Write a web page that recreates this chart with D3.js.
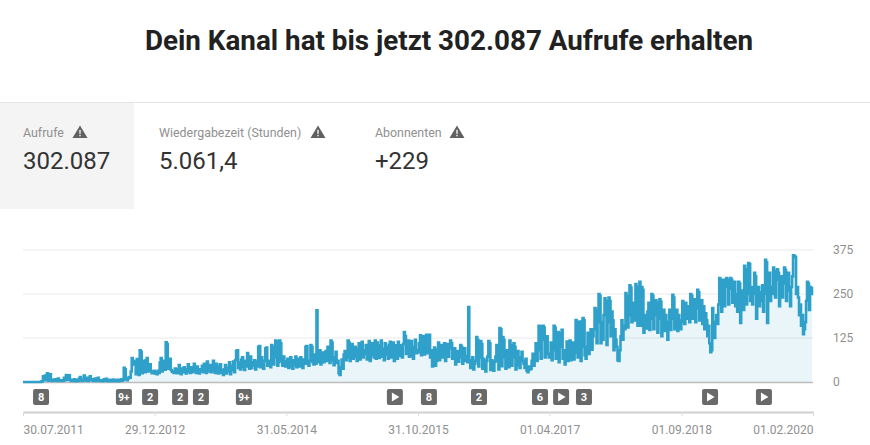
<!DOCTYPE html>
<html>
<head>
<meta charset="utf-8">
<script src="https://cdn.jsdelivr.net/npm/d3@7"></script>
<style>
  html, body { margin: 0; padding: 0; background: #fff; }
  svg { display: block; font-family: Roboto, sans-serif; }
</style>
</head>
<body>
<div id="vis"></div>
<script>
const TITLE = "Dein Kanal hat bis jetzt 302.087 Aufrufe erhalten";

const cardLabels = ["Aufrufe", "Wiedergabezeit (Stunden)", "Abonnenten"];
const cardValues = ["302.087", "5.061,4", "+229"];

const tickDates = ["2011-07-30", "2012-12-29", "2014-05-31", "2015-10-31", "2017-04-01", "2018-09-01", "2020-02-01"];
const tickLabels = ["30.07.2011", "29.12.2012", "31.05.2014", "31.10.2015", "01.04.2017", "01.09.2018", "01.02.2020"];
const yTicks = [0, 125, 250, 375];

// one list of views per stretch between two x ticks
const views1 = [0,0,0,0,0,0,0,0,0,0,0,0,0,0,0,0,0,0,1,2,
  16,5,18,6,25,4,7,22,5,3,6,4,8,5,3,10,4,3,5,3,
  4,12,5,20,6,14,19,6,3,5,3,8,4,2,6,3,9,14,5,3,
  7,18,6,4,12,3,6,16,5,8,4,3,10,3,6,12,4,3,5,2,
  4,8,3,9,4,2,6,3,5,2,7,3,4,2,6,2,5,3,8,4,
  6,40,36,8,5,10,14,12,30,68,60,50,58,22,65,30,20,90,86,25,40,60,28,62,68,30,35,50,30,25,28,32];
const views2 = [24,28,22,32,26,55,68,30,45,60,35,113,108,38,60,66,34,30,28,26,38,30,
  25,36,48,26,22,38,28,42,36,24,30,50,34,26,42,28,30,52,38,26,44,30,24,36,
  30,46,28,52,34,26,58,30,42,48,28,36,60,30,26,52,44,24,38,50,26,34,
  20,36,48,24,40,30,56,22,46,34,58,28,62,
  88,90,40,56,36,64,70,42,34,60,44,82,50,38,72,40,56,46,62,36,58,44,
  100,102,42,70,48,38,60,95,98,46,60,52,42,105,100,50,70,118,115,46,56,118,110,60,46,72,58,44];
const views3 = [48,66,40,60,70,44,38,62,48,72,42,56,66,44,70,50,40,64,52,100,102,52,46,60,105,100,56,50,78,52,
  204,
  56,62,90,50,70,84,56,64,88,60,100,66,54,118,112,62,48,70,86,54,60,
  25,20,42,64,38,78,88,
  62,70,118,112,60,90,108,66,72,100,78,60,95,110,64,74,114,70,90,80,105,64,100,116,60,76,110,98,70,
  118,66,112,84,68,104,118,72,94,62,110,78,100,66,106,114,70,84,112,60,90,104,66,114,74,96,104,70,108,
  142,130,80,100,118,72,90,116,74,66,100,120,82,90];
const views4 = [84,110,133,76,100,130,78,120,134,82,96,134,70,90,
  44,50,98,46,60,
  92,112,62,84,105,70,100,110,60,78,108,72,95,118,110,66,90,96,50,74,88,58,70,105,100,52,66,96,60,74,56,
  213,
  62,40,56,70,36,52,60,128,120,44,70,116,108,38,66,48,30,60,72,116,110,34,62,44,32,58,72,105,60,36,
  153,150,45,128,120,70,38,90,60,42,118,104,46,70,110,100,36,66,88,48,40,70,86,60,52,40,66,32,28,44,36,
  38,60,80,46,70,110,60,90,160,158,66,120,160,155,70,110,130,80,70];
const views5 = [80,112,62,90,160,155,66,120,142,56,100,138,148,66,90,50,
  70,115,60,90,118,62,100,112,64,84,
  176,170,70,120,172,60,100,182,175,76,
  66,100,140,80,120,150,92,130,150,210,205,110,170,
  250,245,110,170,120,190,238,230,105,170,240,230,130,200,175,90,150,120,100,
  62,60,90,
  130,175,120,160,150,253,245,155,190,275,268,170,225,190,175,278,270,160,200,285,
  160,270,262,140,175,190,152,200,225,148,180,250,245,150,190,232,225,140,180,235,228,130,170,205,145,190,170,120,165,205,148,180,248,240,150,185,205,145,190,175,150];
const views6 = [170,230,190,165,225,205,180,215,170,
  250,245,180,215,235,170,210,262,255,175,200,232,165,215,150,195,175,130,160,110,
  85,90,210,150,125,170,190,165,220,
  295,290,200,250,290,215,270,295,290,220,265,295,290,225,260,285,215,250,200,
  285,280,168,220,260,205,330,320,220,250,
  338,335,230,270,220,250,310,300,180,240,270,215,255,230,275,200,250,
  347,340,168,240,310,230,270,250,325,315,240,290,320,310,215,270,300,240,280,325,318,230,290,310,260,215,270,300,
  360,358,355,250,270,240,190,220,160,190,136,150,170,230,
  285,280,205,270,250,270];

const badgeDates = ["2011-10-09", "2012-08-30", "2012-12-11", "2013-04-08", "2013-06-29", "2013-12-15",
  "2015-08-01", "2015-12-13", "2016-06-27", "2017-02-22", "2017-05-16", "2017-08-14", "2018-12-23", "2019-07-23"];
const badgeTexts = ["8", "9+", "2", "2", "2", "9+", "play", "8", "2", "6", "play", "3", "play", "play"];

const WIDTH = 870;
const HEIGHT = 445;
const PLOT_LEFT = 23;
const PLOT_RIGHT = 813;
const PLOT_TOP = 250;
const PLOT_BOTTOM = 382;
const AXIS_Y = 412;
const BADGE_SIZE = 16;

const parseDate = d3.timeParse("%Y-%m-%d");
const tickTimes = tickDates.map(parseDate);

// spread each list evenly over its own stretch of time
const data = [views1, views2, views3, views4, views5, views6].flatMap((list, k) => {
  const dateAt = d3.scaleLinear([0, list.length], [+tickTimes[k], +tickTimes[k + 1]]);
  return list.map((v, i) => ({ date: new Date(dateAt(i)), value: v }));
});

const x = d3.scaleTime([tickTimes[0], tickTimes[6]], [PLOT_LEFT, PLOT_RIGHT]);
const y = d3.scaleLinear([0, 375], [PLOT_BOTTOM, PLOT_TOP]);

const svg = d3.select("#vis").append("svg")
  .attr("width", WIDTH)
  .attr("height", HEIGHT);

svg.append("text")
  .attr("x", 449)
  .attr("y", 50)
  .attr("text-anchor", "middle")
  .attr("font-size", 27.8)
  .attr("font-weight", 700)
  .attr("fill", "#212121")
  .text(TITLE);

svg.append("line")
  .attr("x1", 0).attr("x2", WIDTH)
  .attr("y1", 102.5).attr("y2", 102.5)
  .attr("stroke", "#e4e4e4");

svg.append("rect")
  .attr("x", 0).attr("y", 103)
  .attr("width", 134).attr("height", 106)
  .attr("fill", "#f4f4f4");

const cardX = [23, 159, 375];
const iconX = [80, 318, 457];

function warningIcon(parent, cx, cy) {
  parent.append("path")
    .attr("d", "M0,-6.5 L7.5,6 L-7.5,6 Z")
    .attr("transform", `translate(${cx},${cy})`)
    .attr("fill", "#606060");
  parent.append("rect")
    .attr("x", cx - 0.7).attr("y", cy - 2.2)
    .attr("width", 1.4).attr("height", 4)
    .attr("fill", "#f4f4f4");
  parent.append("rect")
    .attr("x", cx - 0.7).attr("y", cy + 2.8)
    .attr("width", 1.4).attr("height", 1.5)
    .attr("fill", "#f4f4f4");
}

cardLabels.forEach((label, i) => {
  svg.append("text")
    .attr("x", cardX[i]).attr("y", 136.5)
    .attr("font-size", 12.4)
    .attr("fill", "#909090")
    .text(label);
  warningIcon(svg, iconX[i], 132);
  svg.append("text")
    .attr("x", cardX[i]).attr("y", 169)
    .attr("font-size", 24)
    .attr("fill", "#333")
    .text(cardValues[i]);
});

// horizontal grid
svg.append("g")
  .selectAll("line")
  .data(yTicks.filter(d => d > 0))
  .enter()
  .append("line")
    .attr("x1", PLOT_LEFT).attr("x2", PLOT_RIGHT)
    .attr("y1", d => y(d)).attr("y2", d => y(d))
    .attr("stroke", "#e9e9e9")
    .attr("stroke-width", 1.2);

const area = d3.area()
  .curve(d3.curveStepAfter)
  .x(d => x(d.date))
  .y0(PLOT_BOTTOM)
  .y1(d => y(d.value));

const line = d3.line()
  .curve(d3.curveStepAfter)
  .x(d => x(d.date))
  .y(d => y(d.value));

svg.append("path")
  .datum(data)
  .attr("d", area)
  .attr("fill", "#2ea0c9")
  .attr("fill-opacity", 0.1);

svg.append("line")
  .attr("x1", PLOT_LEFT).attr("x2", PLOT_RIGHT)
  .attr("y1", PLOT_BOTTOM + 0.5).attr("y2", PLOT_BOTTOM + 0.5)
  .attr("stroke", "#bdbdbd")
  .attr("stroke-width", 1.5);

svg.append("path")
  .datum(data)
  .attr("d", line)
  .attr("fill", "none")
  .attr("stroke", "#2ea0c9")
  .attr("stroke-width", 2.6);

// value axis, labels only
const yAxis = svg.append("g")
  .attr("transform", `translate(${PLOT_RIGHT + 20},0)`)
  .call(d3.axisRight(y).tickValues(yTicks).tickSize(0).tickPadding(0));
yAxis.select(".domain").remove();
yAxis.selectAll("text")
  .attr("font-family", "Roboto, sans-serif")
  .attr("font-size", 12)
  .attr("fill", "#909090");

// time axis
const xAxis = svg.append("g")
  .attr("transform", `translate(0,${AXIS_Y})`)
  .call(d3.axisBottom(x)
    .tickValues(tickTimes)
    .tickFormat((d, i) => tickLabels[i])
    .tickSize(4)
    .tickSizeOuter(0)
    .tickPadding(9));
xAxis.select(".domain").attr("stroke", "#cfcfcf").attr("stroke-width", 2);
xAxis.selectAll("line").attr("stroke", "#dcdcdc");
xAxis.selectAll("text")
  .attr("font-family", "Roboto, sans-serif")
  .attr("font-size", 12)
  .attr("fill", "#909090")
  .attr("text-anchor", (d, i) => i === 0 ? "start" : i === 6 ? "end" : "middle");

// annotation badges
const badges = svg.append("g")
  .selectAll("g")
  .data(badgeDates.map((d, i) => ({ date: parseDate(d), text: badgeTexts[i] })))
  .enter()
  .append("g")
    .attr("transform", d => `translate(${x(d.date)},397)`);

badges.append("rect")
  .attr("x", -BADGE_SIZE / 2).attr("y", -BADGE_SIZE / 2)
  .attr("width", BADGE_SIZE).attr("height", BADGE_SIZE)
  .attr("rx", 2)
  .attr("fill", "#696969");

badges.filter(d => d.text !== "play")
  .append("text")
    .attr("text-anchor", "middle")
    .attr("y", 4)
    .attr("font-size", d => d.text.length > 1 ? 10 : 11)
    .attr("font-weight", 700)
    .attr("fill", "#fff")
    .text(d => d.text);

badges.filter(d => d.text === "play")
  .append("path")
    .attr("d", "M-3,-4.5 L4.5,0 L-3,4.5 Z")
    .attr("fill", "#fff");
</script>
</body>
</html>
